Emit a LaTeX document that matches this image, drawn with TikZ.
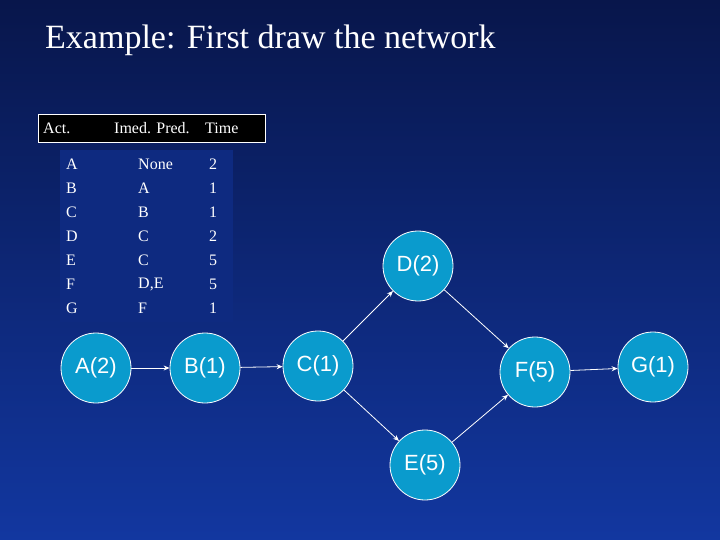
\documentclass[tikz,border=0pt]{standalone}
\usepackage{fontspec}
\setmainfont{Liberation Serif}
\newfontfamily\arialf{Liberation Sans}
\usetikzlibrary{arrows.meta}
\definecolor{topc}{RGB}{8,22,75}
\definecolor{botc}{RGB}{18,55,160}
\definecolor{nodec}{RGB}{10,155,205}
\definecolor{tabc}{RGB}{14,42,128}
\begin{document}
\begin{tikzpicture}[x=1pt,y=-1pt,
  ev/.style={circle,draw=white,fill=nodec,line width=0.8pt,minimum size=70pt,inner sep=0pt,text=white,font=\arialf\fontsize{22}{22}\selectfont},
  arr/.style={-{Stealth[length=6pt,width=5pt]},white,line width=0.8pt},
  cell/.style={text=white,font=\fontsize{16}{16}\selectfont,anchor=west,inner sep=0pt}]
\shade[top color=topc,bottom color=botc] (0,0) rectangle (720,540);
\useasboundingbox (0,0) rectangle (720,540);
\node[anchor=west,text=white,font=\fontsize{34}{34}\selectfont,inner sep=0pt] (title) at (45,40) {Example: First draw the network};
\draw[white,fill=black,line width=0.8pt] (38,114) rectangle (265,142);
\fill[tabc] (60,150) rectangle (233,322);
\node[cell] (h1) at (43,128) {Act.};
\node[cell] (h2) at (114,128) {Imed. Pred.};
\node[cell] (h3) at (205,128) {Time};
\foreach \a/\p/\t [count=\i] in {A/None/2,B/A/1,C/B/1,D/C/2,E/C/5,F/{D,E}/5,G/F/1}{
  \node[cell] (ra\i) at (66,140+24*\i) {\a};
  \node[cell] (rp\i) at (138,140+24*\i) {\p};
  \node[cell] (rt\i) at (209,140+24*\i) {\t};
}
\node[ev] (A) at (96,368) {A(2)};
\node[ev] (B) at (205,368) {B(1)};
\node[ev] (C) at (318,366) {C(1)};
\node[ev] (D) at (418,266) {D(2)};
\node[ev] (E) at (425,465) {E(5)};
\node[ev] (F) at (535,372) {F(5)};
\node[ev] (G) at (653,367) {G(1)};
\draw[arr] (A) -- (B);
\draw[arr] (B) -- (C);
\draw[arr] (C) -- (D);
\draw[arr] (C) -- (E);
\draw[arr] (D) -- (F);
\draw[arr] (E) -- (F);
\draw[arr] (F) -- (G);
\end{tikzpicture}
\end{document}
